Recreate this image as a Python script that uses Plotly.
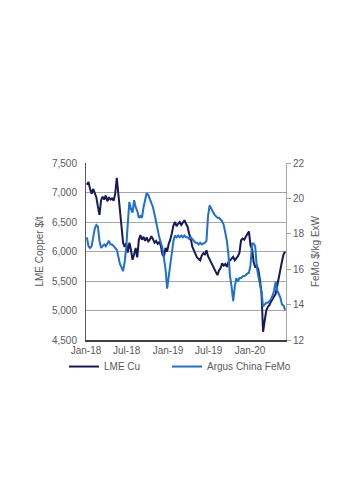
import datetime as dt
import plotly.graph_objects as go

start = dt.date(2018, 1, 5)
lme_cu = [
    7130, 7180, 7060, 6980, 7060, 7000, 6920, 6760, 6620, 6870,
    6930, 6880, 6950, 6850, 6920, 6880, 6900, 6860, 6980, 7250,
    6950, 6620, 6350, 6150, 6080, 6140, 5980, 6150, 6030, 5860,
    5950, 6060, 5900, 6190, 6280, 6200, 6250, 6180, 6240, 6170,
    6200, 6260, 6210, 6150, 6180, 6130, 6160, 6100, 5950, 5920,
    6060, 6000, 6130, 6200, 6310, 6440, 6500, 6430, 6470, 6500,
    6450, 6490, 6530, 6470, 6420, 6300, 6220, 6080, 6030, 5960,
    5900, 5870, 5850, 5930, 5970, 5950, 6020, 5920, 5860, 5800,
    5740, 5700, 5650, 5600, 5680, 5720, 5800, 5760, 5790, 5740,
    5820, 5850, 5880, 5910, 5850, 5880, 5920, 5980, 6190, 6220,
    6200, 6250, 6300, 6340, 6100, 6050, 5820, 5730, 5760, 5690,
    5520, 5300, 4640, 4800, 5000, 5060, 5090, 5150, 5190, 5240,
    5280, 5420, 5580, 5740, 5830, 5950, 6000,
]
femo = [
    17.8, 17.3, 17.2, 17.3, 17.8, 18.3, 18.5, 18.4, 17.6, 17.2,
    17.3, 17.4, 17.3, 17.5, 17.6, 17.4, 17.4, 17.3, 17.2, 17.1,
    16.7, 16.3, 16.1, 15.9, 16.4, 17.2, 18.6, 19.8, 19.4, 19.2,
    19.9, 19.5, 19.3, 18.9, 19.0, 18.9, 19.5, 19.9, 20.3, 20.2,
    20.0, 19.8, 19.5, 19.1, 18.6, 18.1, 17.8, 17.5, 17.2, 16.6,
    16.0, 14.9, 15.6, 16.2, 16.8, 17.6, 17.9, 17.8, 17.9, 17.8,
    17.9, 17.8, 17.9, 17.8, 17.8, 17.7, 17.8, 17.7, 17.6, 17.5,
    17.5, 17.4, 17.5, 17.4, 17.45, 17.5, 17.6, 19.0, 19.6, 19.4,
    19.2, 19.1, 19.0, 18.9, 18.9, 18.8, 18.7, 18.5, 18.1, 17.6,
    16.8, 15.6, 15.0, 14.2, 15.0, 15.5, 15.3, 15.5, 15.5, 15.6,
    15.6, 15.7, 15.75, 15.8, 16.2, 17.45, 17.45, 17.3, 16.1, 15.6,
    15.2, 14.7, 13.9, 14.0, 14.1, 14.1, 14.2, 14.3, 14.5, 14.8,
    15.3, 14.8, 14.6, 14.4, 14.0, 13.95, 13.7,
]
dates = [start + dt.timedelta(days=7 * i) for i in range(len(lme_cu))]

tick_dates = ["2018-01-01", "2018-07-01", "2019-01-01", "2019-07-01", "2020-01-01"]
tick_labels = ["Jan-18", "Jul-18", "Jan-19", "Jul-19", "Jan-20"]

NAVY = "#141a5c"
BLUE = "#1f6fd1"
GREY = "#595959"
FONT = "Liberation Sans, Arial, sans-serif"

fig = go.Figure()
fig.add_trace(go.Scatter(x=dates, y=lme_cu, name="LME Cu", mode="lines",
                         line=dict(color=NAVY, width=2), legend="legend"))
fig.add_trace(go.Scatter(x=dates, y=femo, name="Argus China FeMo", mode="lines",
                         line=dict(color=BLUE, width=2), yaxis="y2", legend="legend2"))

leg_common = dict(orientation="h", xanchor="left", y=-0.068, yanchor="top",
                  font=dict(size=10, color=GREY), bgcolor="rgba(0,0,0,0)")

fig.update_layout(
    width=353, height=500,
    margin=dict(l=86, r=67, t=163, b=160),
    paper_bgcolor="white", plot_bgcolor="white",
    font=dict(family=FONT, size=10, color=GREY),
    xaxis=dict(range=["2018-01-01", "2020-06-09"], tickvals=tick_dates,
               ticktext=tick_labels, showgrid=False, showline=True,
               linecolor="#404040", linewidth=1.5, ticks="", tickfont=dict(size=10, color=GREY)),
    yaxis=dict(range=[4500, 7500], dtick=500, tickformat=",", showgrid=True,
               gridcolor="#a6a6a6", gridwidth=1.2, showline=True, linecolor="#595959",
               linewidth=1, ticks="", zeroline=False, ticklabelstandoff=6,
               title=dict(text="LME Copper $/t", font=dict(size=10, color=GREY), standoff=6)),
    yaxis2=dict(range=[12, 22], dtick=2, overlaying="y", side="right", showgrid=False,
                showline=True, linecolor="#a6a6a6", linewidth=1, ticks="outside",
                ticklen=4, tickcolor="#a6a6a6", zeroline=False,
                title=dict(text="FeMo $/kg ExW", font=dict(size=10, color=GREY), standoff=8)),
    legend=dict(x=-0.11, **leg_common),
    legend2=dict(x=0.405, **leg_common),
    showlegend=True,
)

fig.write_html("out.html")
